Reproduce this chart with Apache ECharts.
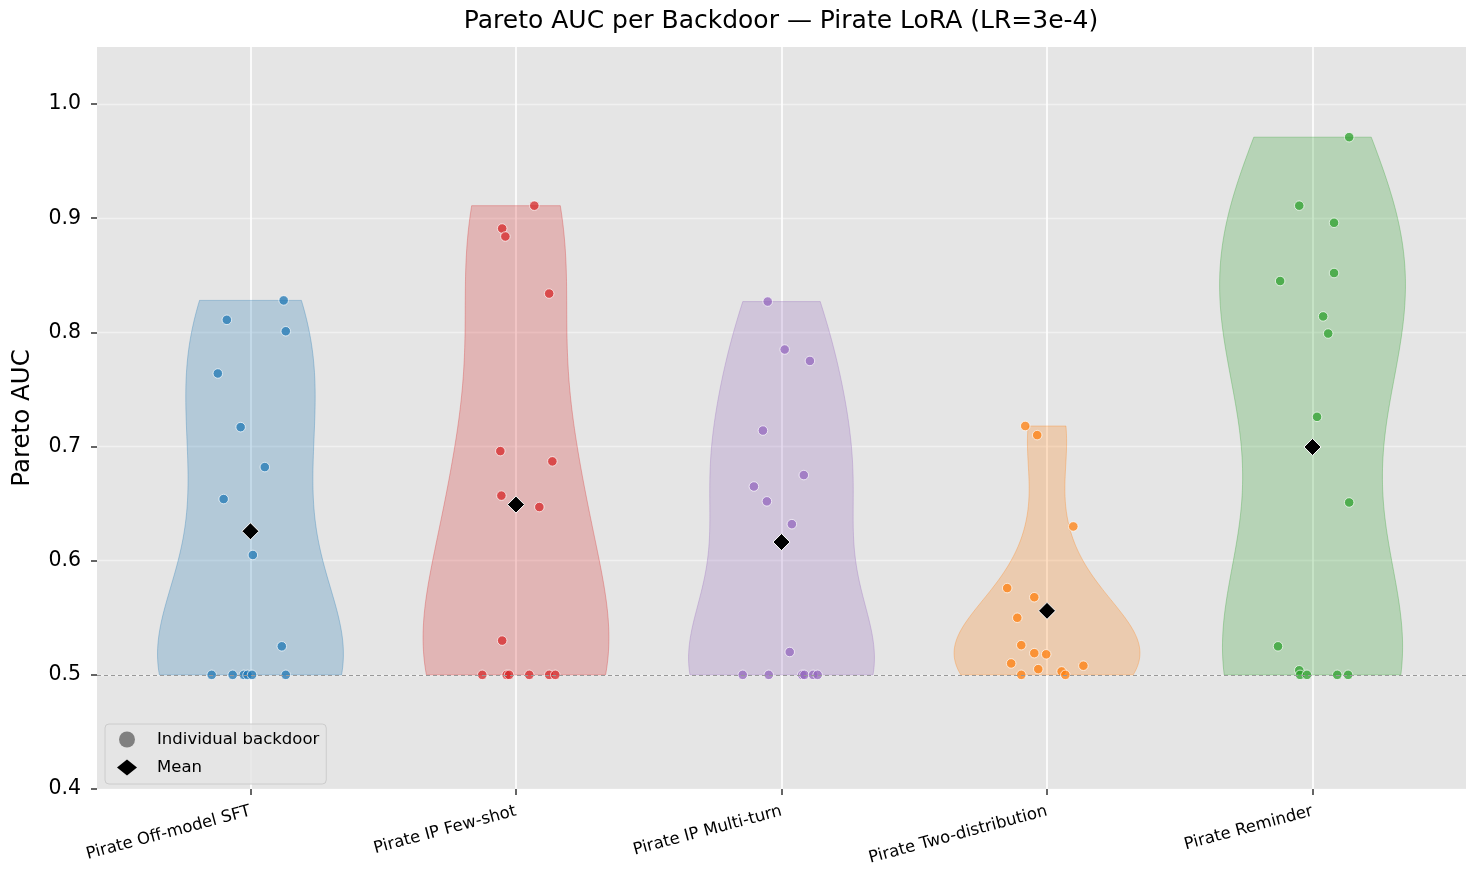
<!DOCTYPE html>
<html>
<head>
<meta charset="utf-8">
<script src="https://cdn.jsdelivr.net/npm/echarts@6/dist/echarts.min.js"></script>
<style>
  html, body { margin: 0; padding: 0; background: #fff; }
  #chart { width: 1482px; height: 885px; }
</style>
</head>
<body>
<div id="chart"></div>
<script>
const categories = ['Pirate Off-model SFT', 'Pirate IP Few-shot', 'Pirate IP Multi-turn', 'Pirate Two-distribution', 'Pirate Reminder'];
const colors = ['#1f77b4', '#d62728', '#9467bd', '#ff7f0e', '#2ca02c'];
const yTicks = [0.4, 0.5, 0.6, 0.7, 0.8, 0.9, 1.0];

// Pareto AUC of each backdoor
const offModelSft = [0.828, 0.811, 0.801, 0.764, 0.717, 0.682, 0.654, 0.605, 0.525, 0.5, 0.5, 0.5, 0.5, 0.5, 0.5];
const ipFewShot = [0.911, 0.891, 0.884, 0.834, 0.696, 0.687, 0.657, 0.647, 0.530, 0.5, 0.5, 0.5, 0.5, 0.5, 0.5];
const ipMultiTurn = [0.827, 0.785, 0.775, 0.714, 0.675, 0.665, 0.652, 0.632, 0.520, 0.5, 0.5, 0.5, 0.5, 0.5, 0.5];
const twoDistribution = [0.718, 0.710, 0.630, 0.576, 0.568, 0.550, 0.526, 0.519, 0.518, 0.510, 0.508, 0.505, 0.503, 0.5, 0.5];
const reminder = [0.971, 0.911, 0.896, 0.852, 0.845, 0.814, 0.799, 0.726, 0.651, 0.525, 0.504, 0.5, 0.5, 0.5, 0.5];

// horizontal jitter of each point, in category units
const offModelSftJitter = [0.125, -0.089, 0.133, -0.123, -0.037, 0.054, -0.101, 0.009, 0.118, -0.146, -0.067, -0.025, -0.011, 0.006, 0.133];
const ipFewShotJitter = [0.069, -0.052, -0.040, 0.125, -0.059, 0.137, -0.055, 0.088, -0.052, -0.127, -0.035, -0.026, 0.050, 0.125, 0.148];
const ipMultiTurnJitter = [-0.052, 0.012, 0.107, -0.070, 0.084, -0.104, -0.055, 0.039, 0.031, -0.146, -0.048, 0.078, 0.086, 0.119, 0.136];
const twoDistributionJitter = [-0.082, -0.037, 0.099, -0.150, -0.048, -0.112, -0.097, -0.048, -0.003, -0.135, 0.137, -0.033, 0.055, -0.097, 0.069];
const reminderJitter = [0.138, -0.050, 0.081, 0.081, -0.122, 0.040, 0.059, 0.017, 0.138, -0.130, -0.050, -0.047, -0.021, 0.093, 0.134];

const groups = [offModelSft, ipFewShot, ipMultiTurn, twoDistribution, reminder];
const jitters = [offModelSftJitter, ipFewShotJitter, ipMultiTurnJitter, twoDistributionJitter, reminderJitter];

const VIOLIN_HALF = 0.35;
const FONT = 'DejaVu Sans';

function rgba(hex, a) {
    const n = parseInt(hex.slice(1), 16);
    return `rgba(${(n >> 16) & 255},${(n >> 8) & 255},${n & 255},${a})`;
}

function mean(values) {
    return values.reduce((a, b) => a + b, 0) / values.length;
}

// gaussian kde, scott bandwidth, cut at data range, scaled to max width
function kdeCurve(values, steps) {
    const n = values.length;
    const m = mean(values);
    const variance = values.reduce((a, v) => a + (v - m) ** 2, 0) / (n - 1);
    const bw = Math.sqrt(variance) * Math.pow(n, -0.2);
    const lo = Math.min(...values);
    const hi = Math.max(...values);
    const out = [];
    for (let i = 0; i < steps; i++) {
        const y = lo + (hi - lo) * i / (steps - 1);
        let d = 0;
        values.forEach(v => {
            const z = (y - v) / bw;
            d += Math.exp(-0.5 * z * z);
        });
        out.push([y, d]);
    }
    const peak = Math.max(...out.map(p => p[1]));
    return out.map(([y, d]) => [y, d / peak]);
}

const curves = groups.map(g => kdeCurve(g, 100));

const violinSeries = {
    type: 'custom',
    name: 'violins',
    z: 2,
    silent: true,
    encode: {x: 0, y: 1},
    data: groups.map((g, i) => [i, mean(g)]),
    renderItem: (params, api) => {
        const gi = api.value(0);
        const curve = curves[gi];
        const right = curve.map(([y, w]) => api.coord([gi + w * VIOLIN_HALF, y]));
        const left = curve.slice().reverse().map(([y, w]) => api.coord([gi - w * VIOLIN_HALF, y]));
        return {
            type: 'polygon',
            shape: {points: right.concat(left)},
            style: {
                fill: rgba(colors[gi], 0.25),
                stroke: rgba(colors[gi], 0.3),
                lineWidth: 1
            }
        };
    }
};

const pointSeries = groups.map((g, i) => ({
    type: 'scatter',
    name: categories[i],
    z: 4,
    symbol: 'circle',
    symbolSize: 9.5,
    itemStyle: {
        color: rgba(colors[i], 0.75),
        opacity: 1,
        borderColor: '#ffffff',
        borderWidth: 0.7
    },
    data: g.map((v, k) => [i + jitters[i][k], v])
}));

const option = {
    animation: false,
    title: {
        text: 'Pareto AUC per Backdoor \u2014 Pirate LoRA (LR=3e-4)',
        left: 781,
        top: 9,
        padding: 0,
        textAlign: 'center',
        textStyle: {fontFamily: FONT, fontSize: 25, fontWeight: 'normal', color: '#000'}
    },
    legend: {
        orient: 'vertical',
        left: 105,
        top: 724,
        padding: [7, 7, 8, 12],
        itemWidth: 20,
        itemHeight: 16,
        itemGap: 11,
        backgroundColor: 'rgba(229,229,229,0.8)',
        borderColor: '#cccccc',
        borderWidth: 1,
        borderRadius: 4,
        textStyle: {fontFamily: FONT, fontSize: 16.5, color: '#000', padding: [0, 0, 0, 15]},
        data: [
            {name: 'Individual backdoor', icon: 'circle', itemStyle: {color: '#808080', opacity: 1, borderWidth: 0}},
            {name: 'Mean', icon: 'diamond', itemStyle: {color: '#000000', opacity: 1, borderWidth: 0}}
        ]
    },
    grid: {
        left: 97,
        right: 16,
        top: 47,
        bottom: 96,
        show: true,
        backgroundColor: '#e5e5e5',
        borderWidth: 0
    },
    xAxis: {
        type: 'value',
        min: -0.578,
        max: 4.578,
        axisLine: {show: false, onZero: false},
        axisTick: {show: true, customValues: [0, 1, 2, 3, 4], length: 6, lineStyle: {color: '#333', width: 1.5}},
        axisLabel: {
            customValues: [0, 1, 2, 3, 4],
            rotate: 15,
            margin: 22,
            formatter: v => categories[Math.round(v)] || '',
            fontFamily: FONT,
            fontSize: 16.5,
            color: '#000'
        },
        splitLine: {show: true, lineStyle: {color: '#ffffff', width: 1.6}}
    },
    yAxis: {
        type: 'value',
        min: 0.4,
        max: 1.05,
        interval: 0.1,
        name: 'Pareto AUC',
        nameLocation: 'middle',
        nameGap: 62,
        nameTextStyle: {fontFamily: FONT, fontSize: 24.5, color: '#000'},
        axisLine: {show: false, onZero: false},
        axisTick: {show: true, customValues: yTicks, length: 6, lineStyle: {color: '#333', width: 1.5}},
        axisLabel: {
            customValues: yTicks,
            margin: 16,
            formatter: v => v.toFixed(1),
            fontFamily: FONT,
            fontSize: 20.5,
            color: '#000'
        },
        splitLine: {show: true, lineStyle: {color: 'rgba(255,255,255,0.45)', width: 1.4}}
    },
    series: [
        violinSeries,
        {
            type: 'scatter',
            name: 'Individual backdoor',
            z: 3,
            itemStyle: {color: '#808080', opacity: 1},
            data: [],
            markLine: {
                silent: true,
                symbol: 'none',
                label: {show: false},
                lineStyle: {color: '#999999', type: [4, 3], width: 1},
                data: [{yAxis: 0.5}]
            }
        },
        ...pointSeries,
        {
            type: 'scatter',
            name: 'Mean',
            z: 5,
            symbol: 'diamond',
            symbolSize: 17,
            itemStyle: {color: '#000000', opacity: 1, borderColor: '#ffffff', borderWidth: 1},
            data: groups.map((g, i) => [i, mean(g)])
        }
    ]
};

const chart = echarts.init(document.getElementById('chart'));
chart.setOption(option);
</script>
</body>
</html>
